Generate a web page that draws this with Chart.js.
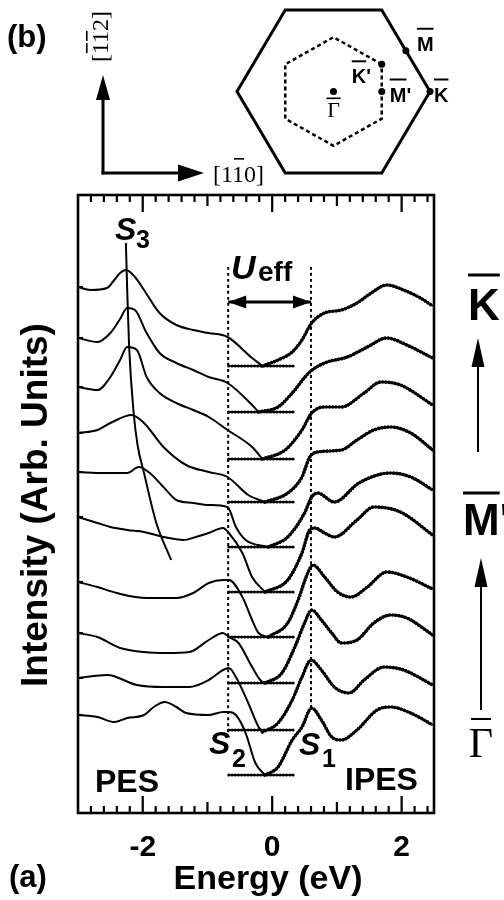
<!DOCTYPE html>
<html>
<head>
<meta charset="utf-8">
<script src="https://cdn.jsdelivr.net/npm/chart.js@4.4.1/dist/chart.umd.min.js"></script>
<style>
  html, body { margin: 0; padding: 0; background: #fff; }
  #wrap { position: relative; width: 504px; height: 900px; }
  #main { position: absolute; left: 0; top: 0; }
  #bz { position: absolute; left: 217px; top: 0; }
</style>
</head>
<body>
<div id="wrap">
  <canvas id="main" width="504" height="900"></canvas>
  <canvas id="bz" width="233" height="183"></canvas>
</div>
<script>
// ---- data: [energy (eV), intensity (arb.)] ----
const pes1 = [[-3.0,52.6],[-2.81,52.3],[-2.55,52.5],[-2.44,53.3],[-2.35,54.0],[-2.26,54.3],[-2.12,53.6],[-1.98,52.3],[-1.74,50.0],[-1.48,48.8],[-1.22,48.3],[-0.98,48.0],[-0.69,47.6],[-0.31,45.5],[-0.15,44.7]];
const pes2 = [[-3.0,47.5],[-2.7,47.1],[-2.5,48.0],[-2.35,49.4],[-2.24,50.5],[-2.12,50.3],[-1.94,48.0],[-1.74,46.0],[-1.48,45.0],[-1.22,44.3],[-0.98,43.6],[-0.69,43.0],[-0.31,40.8],[-0.21,40.1]];
const pes3 = [[-3.0,42.6],[-2.7,42.3],[-2.5,43.6],[-2.35,45.3],[-2.24,46.6],[-2.09,46.3],[-1.94,43.6],[-1.74,42.0],[-1.48,41.0],[-1.22,40.3],[-0.98,39.6],[-0.69,38.3],[-0.31,36.6],[-0.15,35.4]];
const pes4 = [[-3.0,38.0],[-2.7,38.3],[-2.5,39.0],[-2.17,39.8],[-1.98,39.0],[-1.68,36.6],[-1.33,34.8],[-0.98,34.1],[-0.69,33.6],[-0.37,31.8],[-0.11,31.1]];
const pes5 = [[-3.0,34.1],[-2.6,34.0],[-2.24,34.0],[-2.06,34.6],[-1.89,34.0],[-1.68,32.6],[-1.48,31.3],[-1.22,31.0],[-0.98,30.8],[-0.69,30.6],[-0.56,28.6],[-0.41,27.3],[-0.06,26.6]];
const pes6 = [[-3.0,29.6],[-2.7,29.0],[-2.5,28.6],[-2.24,28.3],[-1.98,28.1],[-1.68,27.6],[-1.37,27.3],[-1.18,27.6],[-0.98,28.0],[-0.76,28.5],[-0.67,28.0],[-0.46,26.0],[-0.31,23.6],[-0.11,22.1]];
const pes7 = [[-3.0,23.1],[-2.7,22.6],[-2.4,22.0],[-1.94,21.5],[-1.48,21.5],[-1.22,22.0],[-0.98,23.0],[-0.76,23.3],[-0.67,23.3],[-0.46,21.6],[-0.31,19.3],[-0.21,18.0],[-0.06,17.6]];
const pes8 = [[-3.0,18.0],[-2.7,17.6],[-2.35,16.5],[-1.98,16.1],[-1.63,16.0],[-1.28,16.1],[-0.98,17.3],[-0.76,18.0],[-0.67,17.6],[-0.52,17.0],[-0.31,14.6],[-0.15,13.1],[-0.06,13.0]];
const pes9 = [[-3.0,13.5],[-2.55,13.8],[-2.09,12.8],[-1.68,12.6],[-1.28,12.6],[-0.98,13.3],[-0.76,14.3],[-0.67,14.5],[-0.56,13.6],[-0.37,11.0],[-0.21,8.6],[-0.15,8.1]];
const pes10 = [[-3.0,9.8],[-2.7,9.6],[-2.44,9.1],[-2.24,9.5],[-1.98,9.8],[-1.83,10.6],[-1.66,11.1],[-1.48,10.6],[-1.33,10.0],[-0.98,9.8],[-0.76,10.1],[-0.67,10.1],[-0.56,9.8],[-0.41,8.0],[-0.26,5.0],[-0.11,3.8]];

const ipes1 = [[-0.15,44.7],[0.09,45.3],[0.31,46.1],[0.46,47.3],[0.61,49.0],[0.81,50.0],[1.07,50.3],[1.31,51.0],[1.53,52.0],[1.77,52.8],[2.03,52.3],[2.29,51.5],[2.48,50.7]];
const ipes2 = [[-0.21,40.1],[0.09,40.6],[0.31,42.0],[0.58,44.1],[0.81,45.0],[1.16,45.6],[1.47,46.6],[1.77,47.5],[2.08,46.8],[2.48,45.5]];
const ipes3 = [[-0.15,35.4],[0.2,36.3],[0.46,38.3],[0.61,40.0],[0.81,40.6],[1.07,40.6],[1.42,42.0],[1.68,43.1],[1.98,42.8],[2.48,40.8]];
const ipes4 = [[-0.11,31.1],[0.24,32.0],[0.46,33.6],[0.58,35.6],[0.7,36.1],[1.07,36.3],[1.31,37.3],[1.57,38.3],[1.83,38.6],[2.14,38.0],[2.48,36.3]];
const ipes5 = [[-0.06,26.6],[0.24,27.6],[0.5,30.0],[0.61,31.6],[0.7,32.0],[0.96,31.1],[1.34,33.0],[1.83,34.0],[2.14,33.6],[2.48,32.3]];
const ipes6 = [[-0.11,22.1],[0.24,23.3],[0.46,26.0],[0.58,28.3],[0.66,28.5],[0.81,28.0],[0.96,27.6],[1.31,29.3],[1.57,30.6],[1.98,30.1],[2.48,27.8]];
const ipes7 = [[-0.06,17.6],[0.24,19.0],[0.4,21.3],[0.55,24.0],[0.63,24.8],[0.81,23.6],[1.01,22.1],[1.22,21.6],[1.47,22.6],[1.77,24.1],[2.08,23.6],[2.48,22.4]];
const ipes8 = [[-0.11,13.0],[0.15,14.0],[0.35,16.6],[0.5,19.0],[0.61,20.3],[0.76,19.3],[0.92,18.0],[1.07,17.0],[1.31,17.3],[1.57,19.0],[1.83,19.8],[2.08,19.5],[2.48,17.8]];
const ipes9 = [[-0.15,8.1],[0.09,9.0],[0.31,11.3],[0.46,13.6],[0.6,15.3],[0.76,14.3],[0.96,12.6],[1.19,12.0],[1.42,13.3],[1.73,14.6],[2.03,14.3],[2.48,12.8]];
const ipes10 = [[-0.11,3.8],[0.09,4.6],[0.31,7.3],[0.46,8.6],[0.61,10.5],[0.76,9.3],[0.92,7.6],[1.07,7.3],[1.31,8.3],[1.62,10.3],[1.83,10.6],[2.14,10.0],[2.48,8.8]];

const baselines = [44.7, 40.1, 35.4, 31.1, 26.6, 22.1, 17.6, 13.0, 8.3, 3.8];
const baseSpan = [-0.67, 0.33];
const startTicks = [52.6, 47.5, 42.6, 38.0, 34.1, 29.6, 23.1, 18.0, 13.5, 9.8];

// energy axis ticks
const xTicks = [-2.8,-2.6,-2.4,-2.2,-2,-1.8,-1.6,-1.4,-1.2,-1,-0.8,-0.6,-0.4,-0.2,0,0.2,0.4,0.6,0.8,1,1.2,1.4,1.6,1.8,2,2.2,2.4];
const xMajor = [-2, 0, 2];
const xMid = [-1, 1];

// S3 dispersion guide
const s3Line = [[-2.26,57.0],[-2.24,52.3],[-2.21,46.6],[-2.14,40.0],[-2.08,36.8],[-1.98,34.0],[-1.79,29.0],[-1.56,25.3]];
// U_eff markers
const dashE = [-0.68, 0.6];
const dashTop = 54.6;
const dashBottom = [8.0, 10.3];
const ueffY = 51.1;

// surface Brillouin zone (panel b), in units of Gamma-K
const outerHex = [[1,0],[0.5,0.866],[-0.5,0.866],[-1,0],[-0.5,-0.866],[0.5,-0.866],[1,0]];
const innerHex = [[0.5,0.289],[0,0.577],[-0.5,0.289],[-0.5,-0.289],[0,-0.577],[0.5,-0.289],[0.5,0.289]];
const bzPoints = [[0,0],[0.5,0.289],[0.5,0],[0.75,0.433],[1,0]];

const SANS = "'Liberation Sans', Arial, Helvetica, sans-serif";
const SERIF = "'Liberation Serif', 'Times New Roman', 'DejaVu Serif', serif";

const xy = arr => arr.map(([x, y]) => ({ x, y }));
const lineBase = { showLine: true, pointRadius: 0, borderColor: '#000', backgroundColor: '#000', fill: false, cubicInterpolationMode: 'monotone' };

const datasets = [];
[pes1, pes2, pes3, pes4, pes5, pes6, pes7, pes8, pes9, pes10].forEach(p => {
  datasets.push({ ...lineBase, data: xy(p), borderWidth: 2 });
});
[ipes1, ipes2, ipes3, ipes4, ipes5, ipes6, ipes7, ipes8, ipes9, ipes10].forEach(p => {
  datasets.push({ ...lineBase, data: xy(p), borderWidth: 2 });
  // beaded overlay for the measured IPES points
  datasets.push({ ...lineBase, data: xy(p), borderWidth: 3.6, borderDash: [0.01, 3.2], borderCapStyle: 'round' });
});
baselines.forEach(b => {
  const d = baseSpan.map(x => ({ x, y: b }));
  datasets.push({ ...lineBase, data: d, borderWidth: 1.5 });
  datasets.push({ ...lineBase, data: d, borderWidth: 3.2, borderDash: [0.01, 3.2], borderCapStyle: 'round' });
});
datasets.push({ ...lineBase, data: xy(s3Line), borderWidth: 2 });
dashE.forEach((e, i) => {
  datasets.push({ ...lineBase, data: [{ x: e, y: dashTop }, { x: e, y: dashBottom[i] }], borderWidth: 2, borderDash: [3, 3] });
});
datasets.push({ ...lineBase, data: dashE.map(e => ({ x: e, y: ueffY })), borderWidth: 3 });

function head(ctx, tx, ty, dx, dy, len, hw) {
  // filled triangle pointing along (dx,dy) with tip at (tx,ty)
  const bx = tx - dx * len, by = ty - dy * len;
  ctx.beginPath();
  ctx.moveTo(tx, ty);
  ctx.lineTo(bx - dy * hw, by + dx * hw);
  ctx.lineTo(bx + dy * hw, by - dx * hw);
  ctx.closePath();
  ctx.fill();
}

function barText(ctx, s, x, y, font, barY, barW) {
  ctx.font = font;
  ctx.textAlign = 'left';
  ctx.fillText(s, x, y);
  const w = ctx.measureText(s[0]).width;
  ctx.fillRect(x, barY - barW / 2, w, barW);
}

const decor = {
  id: 'decor',
  afterDraw(chart) {
    const { ctx, chartArea: a, scales: { x, y } } = chart;
    ctx.save();
    ctx.setLineDash([]);
    ctx.strokeStyle = '#000';
    ctx.fillStyle = '#000';
    ctx.textBaseline = 'alphabetic';

    // U_eff double arrow heads
    const ay = y.getPixelForValue(ueffY);
    const x0 = x.getPixelForValue(dashE[0]), x1 = x.getPixelForValue(dashE[1]);
    head(ctx, x0, ay, -1, 0, 18, 6.5);
    head(ctx, x1, ay, 1, 0, 18, 6.5);

    // labels inside the plot
    ctx.textAlign = 'left';
    ctx.font = `italic bold 32px ${SANS}`; ctx.fillText('S', 115, 240);
    ctx.font = `bold 25px ${SANS}`; ctx.fillText('3', 136, 248);
    ctx.font = `italic bold 34px ${SANS}`; ctx.fillText('U', 231, 279);
    ctx.font = `bold 28px ${SANS}`; ctx.fillText('eff', 258, 281);
    ctx.font = `italic bold 32px ${SANS}`; ctx.fillText('S', 209, 754);
    ctx.font = `bold 25px ${SANS}`; ctx.fillText('2', 232, 767);
    ctx.font = `italic bold 32px ${SANS}`; ctx.fillText('S', 299, 755);
    ctx.font = `bold 25px ${SANS}`; ctx.fillText('1', 322, 767);
    ctx.font = `bold 32px ${SANS}`;
    ctx.fillText('PES', 95, 792);
    ctx.fillText('IPES', 345, 790);

    // axis titles
    ctx.textAlign = 'center';
    ctx.font = `bold 34px ${SANS}`;
    ctx.fillText('Energy (eV)', 268, 889);
    ctx.save();
    ctx.translate(47, 505);
    ctx.rotate(-Math.PI / 2);
    ctx.font = `bold 37px ${SANS}`;
    ctx.fillText('Intensity (Arb. Units)', 0, 0);
    ctx.restore();

    // panel letters
    ctx.textAlign = 'left';
    ctx.font = `bold 31px ${SANS}`;
    ctx.fillText('(a)', 9, 887);
    ctx.fillText('(b)', 7, 47);

    // k-path annotation on the right
    ctx.fillRect(477, 362, 2, 90);
    head(ctx, 478, 338, 0, -1, 29, 6.5);
    ctx.fillRect(480, 582, 2, 128);
    head(ctx, 481, 558, 0, -1, 29, 6.5);
    barText(ctx, 'K', 468, 320, `bold 44px ${SANS}`, 275, 3);
    barText(ctx, "M'", 463, 535, `bold 44px ${SANS}`, 493, 3);
    ctx.font = `42px ${SERIF}`;
    ctx.textAlign = 'center';
    ctx.fillText('Γ', 481, 757);
    ctx.fillRect(471, 718, 20, 2);

    // crystal directions (panel b)
    ctx.fillRect(101.5, 98, 3, 76.5);
    ctx.fillRect(101.5, 171.5, 78, 3);
    head(ctx, 103, 75, 0, -1, 25, 7);
    head(ctx, 204, 173, 1, 0, 26, 8.5);

    ctx.textAlign = 'left';
    ctx.font = `24px ${SERIF}`;
    const wB = ctx.measureText('[').width, w1 = ctx.measureText('1').width;
    ctx.fillText('[110]', 213, 182);
    ctx.fillRect(213 + wB + w1 + 1, 158, w1 - 2, 1.6);
    ctx.save();
    ctx.translate(108, 62);
    ctx.rotate(-Math.PI / 2);
    ctx.fillText('[112]', 0, 0);
    ctx.fillRect(wB + 1, -22, w1 - 2, 1.6);
    ctx.fillRect(wB + w1 + 1, -22, w1 - 2, 1.6);
    ctx.restore();

    // frame
    ctx.lineWidth = 2.6;
    ctx.strokeRect(a.left, a.top, a.right - a.left, a.bottom - a.top);

    // inward energy ticks (top and bottom)
    xTicks.forEach(v => {
      const len = xMajor.includes(v) ? 17 : (xMid.includes(v) ? 11 : 7);
      const px = x.getPixelForValue(v);
      ctx.fillRect(px - 1.1, a.bottom - len, 2.2, len);
      ctx.fillRect(px - 1.1, a.top, 2.2, len);
    });
    // spectrum offset ticks on the left spine
    startTicks.forEach(v => {
      const py = y.getPixelForValue(v);
      ctx.fillRect(a.left, py - 1, 5, 2);
    });

    ctx.restore();
  }
};

new Chart(document.getElementById('main'), {
  type: 'scatter',
  data: { datasets },
  options: {
    responsive: false,
    animation: false,
    events: [],
    devicePixelRatio: 1,
    layout: { padding: { left: 78, right: 70, top: 195, bottom: 0 } },
    plugins: { legend: { display: false }, tooltip: { enabled: false } },
    scales: {
      x: {
        type: 'linear',
        min: -3,
        max: 2.5,
        afterFit: s => { s.height = 87; },
        afterBuildTicks: s => { s.ticks = xMajor.map(v => ({ value: v })); },
        grid: { display: false, drawTicks: false },
        border: { display: false },
        ticks: {
          autoSkip: false,
          maxRotation: 0,
          minRotation: 0,
          padding: 17,
          color: '#000',
          font: { family: SANS, size: 30, weight: 'bold' },
          callback: v => String(v)
        }
      },
      y: { type: 'linear', display: false, min: 0, max: 61.8 }
    }
  },
  plugins: [decor]
});

// ---- panel (b): surface Brillouin zone ----
const bzLabels = {
  id: 'bzLabels',
  afterDraw(chart) {
    const { ctx, scales: { x, y } } = chart;
    const P = i => [x.getPixelForValue(bzPoints[i][0]), y.getPixelForValue(bzPoints[i][1])];
    ctx.save();
    ctx.setLineDash([]);
    ctx.fillStyle = '#000';
    ctx.textBaseline = 'alphabetic';
    const f = `bold 20px ${SANS}`;
    let [px, py] = P(1);
    barText(ctx, "K'", px - 30, py + 19, f, py - 3, 2);
    [px, py] = P(2);
    barText(ctx, "M'", px + 8, py + 10, f, py - 12, 2);
    [px, py] = P(3);
    barText(ctx, 'M', px + 11, py, f, py - 22, 2);
    [px, py] = P(4);
    barText(ctx, 'K', px + 4, py + 10, f, py - 12, 2);
    [px, py] = P(0);
    ctx.font = `22px ${SERIF}`;
    ctx.textAlign = 'center';
    ctx.fillText('Γ', px, py + 25);
    ctx.fillRect(px - 7, py + 6, 14, 1.6);
    ctx.restore();
  }
};

new Chart(document.getElementById('bz'), {
  type: 'scatter',
  data: {
    datasets: [
      { ...lineBase, cubicInterpolationMode: 'default', tension: 0, data: xy(outerHex), borderWidth: 3, clip: false, borderJoinStyle: 'miter' },
      { ...lineBase, cubicInterpolationMode: 'default', tension: 0, data: xy(innerHex), borderWidth: 2.5, borderDash: [4, 3], clip: false },
      { data: xy(bzPoints), showLine: false, pointRadius: 3.5, pointBackgroundColor: '#000', pointBorderWidth: 0, clip: false }
    ]
  },
  options: {
    responsive: false,
    animation: false,
    events: [],
    devicePixelRatio: 1,
    layout: { padding: { left: 20, right: 20, top: 10, bottom: 10 } },
    plugins: { legend: { display: false }, tooltip: { enabled: false } },
    scales: {
      x: { type: 'linear', display: false, min: -1, max: 1 },
      y: { type: 'linear', display: false, min: -0.866, max: 0.866 }
    }
  },
  plugins: [bzLabels]
});
</script>
</body>
</html>
